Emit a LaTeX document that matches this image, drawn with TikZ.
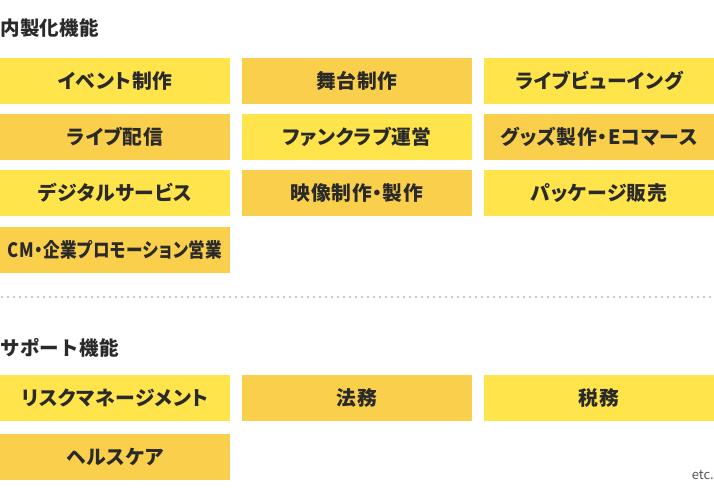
\documentclass[tikz,border=0pt]{standalone}
\usepackage{fontspec}
\setmainfont{Noto Sans CJK JP}
\newfontfamily\boxfont{Noto Sans CJK JP}[RawFeature=+palt, LetterSpace=3]
\newfontfamily\headfont{Noto Sans CJK JP}[LetterSpace=2]
\definecolor{ybright}{HTML}{FFE44B}
\definecolor{ydark}{HTML}{FACF4B}
\definecolor{txt}{HTML}{2A2A2A}
\definecolor{dotc}{HTML}{C8C8C8}
\definecolor{etcc}{HTML}{555555}
\tikzset{
  fbox/.style={minimum width=230pt, minimum height=46pt, inner sep=0pt, draw=none,
    text=txt, font=\boxfont\bfseries\fontsize{19.8}{22}\selectfont},
  bright/.style={fbox, fill=ybright},
  dark/.style={fbox, fill=ydark},
  heading/.style={anchor=west, inner sep=0pt, text=txt, font=\headfont\bfseries\fontsize{19.5}{21}\selectfont},
  sepline/.style={draw=dotc, line width=1.6pt, dash pattern=on 1.6pt off 4.4pt}
}
\begin{document}
\begin{tikzpicture}[x=1pt, y=-1pt]
\useasboundingbox (0,0) rectangle (714,490);
\node[heading] (h1) at (0,28.5) {内製化機能};
\node[bright] (a1) at (115,81) {イベント制作};
\node[dark]   (a2) at (357,81) {舞台制作};
\node[bright] (a3) at (599,81) {ライブビューイング};
\node[dark]   (b1) at (115,137) {ライブ配信};
\node[bright] (b2) at (357,137) {ファンクラブ運営};
\node[dark]   (b3) at (599,137) {グッズ製作・Eコマース};
\node[bright] (c1) at (115,193) {デジタルサービス};
\node[dark]   (c2) at (357,193) {映像制作・製作};
\node[bright] (c3) at (599,193) {パッケージ販売};
\node[dark]   (d1) at (115,249.5) {\resizebox{215pt}{\height}{CM・企業プロモーション営業}};
\coordinate (s1) at (1,297);
\coordinate (s2) at (714,297);
\draw[sepline] (s1) -- (s2);
\node[heading] (h2) at (0,348) {サポート機能};
\node[bright] (e1) at (115,398) {リスクマネージメント};
\node[dark]   (e2) at (357,398) {法務};
\node[bright] (e3) at (599,398) {税務};
\node[dark]   (f1) at (115,457) {ヘルスケア};
\node[anchor=east, inner sep=0pt, text=etcc, font=\fontsize{13}{14}\selectfont] (etc) at (714,475) {etc.};
\end{tikzpicture}
\end{document}
